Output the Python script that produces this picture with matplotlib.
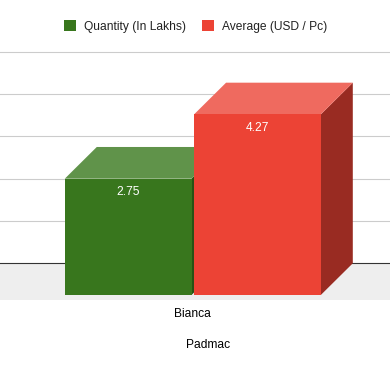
import matplotlib
matplotlib.use("Agg")
import matplotlib.pyplot as plt
from matplotlib.patches import Patch

plt.rcParams["font.family"] = ["Liberation Sans", "DejaVu Sans"]

series = ["Quantity (In Lakhs)", "Average (USD / Pc)"]
values = [2.75, 4.27]
category = "Bianca"
axis_title = "Padmac"
grid_values = [0, 1, 2, 3, 4, 5]

front_colors = ["#38761d", "#ec4335"]
top_colors = ["#60934a", "#ef6a5f"]
side_colors = ["#275214", "#992b22"]

# one bar is one x unit, the 3d look is just an offset up and to the right
px_x = 128.0
px_y = 42.3
depth_x = 32 / px_x
depth_y = 31.7 / px_y
bar_w = 0.99

fig = plt.figure(figsize=(3.9, 3.71), dpi=100)
ax = fig.add_axes([0, 0, 1, 1])
ax.set_xlim(-64.8 / px_x, (390 - 64.8) / px_x)
ax.set_ylim(-(371 - 295) / px_y, 295 / px_y)
ax.axis("off")

# floor and back wall
ax.axhspan(-5 / px_y, depth_y, color="#eeeeee", lw=0, zorder=1)
for g in grid_values[1:]:
    ax.axhline(g + depth_y, color="#cccccc", lw=0.8, zorder=1)
ax.axhline(depth_y, color="#333333", lw=0.8, zorder=2)

for i, v in enumerate(values):
    x0 = i + (1 - bar_w) * i
    x1 = x0 + bar_w
    z = 3 + i
    ax.fill([x1, x1 + depth_x, x1 + depth_x, x1], [0, depth_y, v + depth_y, v],
            color=side_colors[i], lw=0, zorder=z)
    ax.fill([x0, x0 + depth_x, x1 + depth_x, x1], [v, v + depth_y, v + depth_y, v],
            color=top_colors[i], lw=0, zorder=z)
    ax.bar(x0, v, width=bar_w, align="edge", color=front_colors[i], lw=0, zorder=z)
    ax.annotate(f"{v:.2f}", (x0 + bar_w / 2, v), xytext=(0, -13.5), textcoords="offset pixels",
                ha="center", va="center", color="white", fontsize=8.64, zorder=6)

ax.text(bar_w + 1 / px_x, -19 / px_y, category, ha="center", va="center", fontsize=8.64, color="#000000")
ax.text(bar_w + depth_x / 2 + 1 / px_x, -50 / px_y, axis_title, ha="center", va="center", fontsize=8.64,
        color="#000000")

handles = [Patch(color=c, lw=0) for c in front_colors]
ax.legend(handles, series, ncol=2, loc="center", bbox_to_anchor=(0.5 + 0.5 / 390, 1 - 26.5 / 371), frameon=False,
          fontsize=8.64, handlelength=1, handleheight=1, handletextpad=0.67, columnspacing=1.33,
          labelcolor="#222222", borderpad=0, borderaxespad=0)

fig.savefig("out.png", dpi=100)
